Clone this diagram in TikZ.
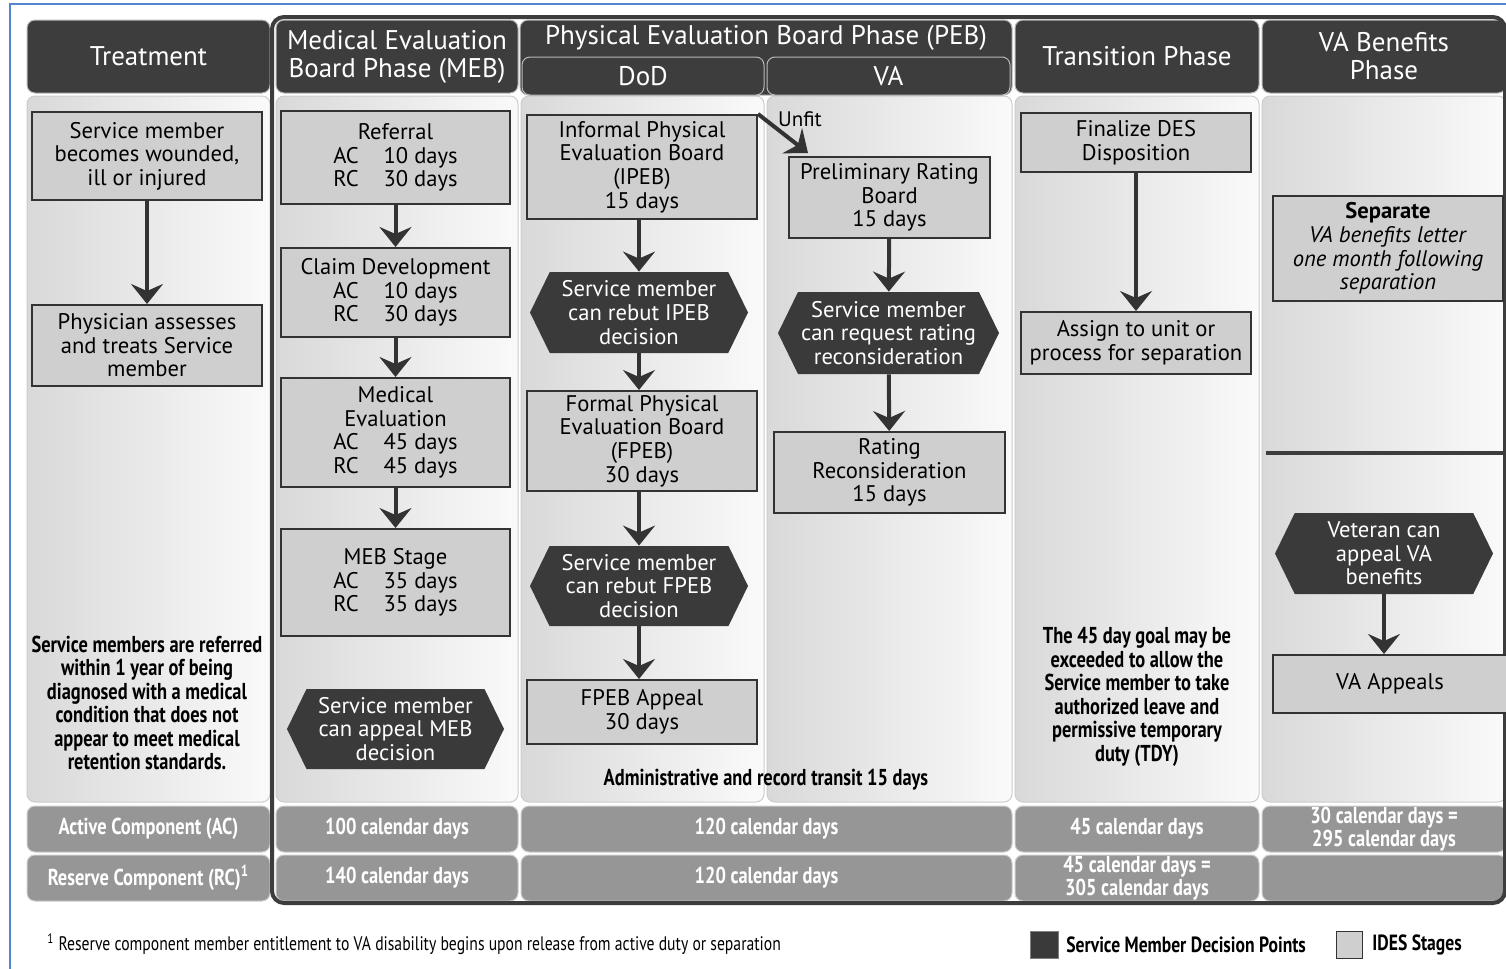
\documentclass[tikz,border=0pt]{standalone}
\usepackage{fontspec}
\setmainfont{PT Sans}
\newfontfamily\condfont[FakeStretch=0.80]{PT Sans}
\usetikzlibrary{arrows.meta,shapes.symbols}
\definecolor{headdark}{HTML}{3D3D3D}
\definecolor{boxfill}{HTML}{CFCFCF}
\definecolor{boxline}{HTML}{333333}
\definecolor{decfill}{HTML}{3A3A3A}
\definecolor{rowgray}{HTML}{969696}
\definecolor{arrowgray}{HTML}{333333}
\definecolor{bluebord}{HTML}{5585CC}
\tikzset{
  phasehead/.style={fill=headdark, draw=gray!55, line width=0.5pt, rounded corners=4pt, text=white, align=center, inner sep=0pt, font=\fontsize{13.5}{14}\selectfont},
  stagebox/.style={draw=boxline, line width=1pt, fill=boxfill, align=center, inner sep=0pt, font=\fontsize{11.3}{11.8}\selectfont},
  decision/.style={signal, signal to=east and west, signal pointer angle=128, fill=decfill, text=white, align=center, inner sep=0pt, font=\fontsize{11.3}{11.8}\selectfont},
  dayscell/.style={fill=rowgray, draw=gray!40, line width=0.5pt, rounded corners=4pt, text=white, align=center, inner sep=0pt, minimum height=23pt, font=\condfont\bfseries\fontsize{11.5}{11.5}\selectfont},
  colbody/.style={left color=gray!30, right color=gray!4, draw=gray!40, line width=0.5pt, rounded corners=4pt},
  flow/.style={draw=arrowgray, line width=2pt, -{Stealth[length=10pt, width=16pt, inset=3.5pt]}},
  boldnote/.style={align=center, inner sep=0pt, font=\condfont\bfseries\fontsize{11.5}{11.75}\selectfont},
}
\begin{document}
\begin{tikzpicture}[x=0.5pt, y=-0.5pt]
    \useasboundingbox (0,0) rectangle (1506,969);
    \draw[bluebord, line width=1pt] (10,969) -- (10,4) -- (1506,4);
    % column bodies
    \shade[colbody] (27,96) rectangle (270,802);
    \shade[colbody] (276,96) rectangle (518,802);
    \shade[colbody] (521,96) rectangle (764,802);
    \shade[colbody] (767,96) rectangle (1012,802);
    \shade[colbody] (1015,96) rectangle (1259,802);
    \shade[colbody] (1262,96) rectangle (1506,802);
    % headers
    \node[phasehead, minimum width=121.5pt, minimum height=36.5pt] (hTreat) at (148.5,56.5) {Treatment};
    \node[phasehead, minimum width=121pt, minimum height=36.5pt] (hMEB) at (397,56.5) {Medical Evaluation\\Board Phase (MEB)};
    \node[phasehead, minimum width=246pt, minimum height=37.5pt] (hPEB) at (766,57.5) {};
    \node[text=white, font=\fontsize{13.5}{14}\selectfont, inner sep=0pt] (hPEBtitle) at (766,38) {Physical Evaluation Board Phase (PEB)};
    \node[phasehead, minimum width=121pt, minimum height=19pt] (hDoD) at (643,76) {DoD};
    \node[phasehead, minimum width=121.5pt, minimum height=19pt] (hVA) at (888.5,76) {VA};
    \node[phasehead, minimum width=122pt, minimum height=36.5pt] (hTrans) at (1137,56.5) {Transition Phase};
    \node[phasehead, minimum width=122pt, minimum height=36.5pt] (hBen) at (1384,56.5) {VA Benefits\\Phase};
    % day rows
    \node[dayscell, minimum width=121.5pt] (acT) at (148.5,829) {Active Component (AC)};
    \node[dayscell, minimum width=121.5pt] (rcT) at (148.5,878) {Reserve Component (RC)\textsuperscript{1}};
    \node[dayscell, minimum width=121pt] (acMEB) at (397,829) {100 calendar days};
    \node[dayscell, minimum width=121pt] (rcMEB) at (397,878) {140 calendar days};
    \node[dayscell, minimum width=245.5pt] (acPEB) at (766.5,829) {120 calendar days};
    \node[dayscell, minimum width=245.5pt] (rcPEB) at (766.5,878) {120 calendar days};
    \node[dayscell, minimum width=122pt] (acTrans) at (1137,829) {45 calendar days};
    \node[dayscell, minimum width=122pt] (rcTrans) at (1137,878) {45 calendar days =\\305 calendar days};
    \node[dayscell, minimum width=122pt] (acBen) at (1384,829) {30 calendar days =\\295 calendar days};
    \node[dayscell, minimum width=122pt] (rcBen) at (1384,878) {};
    \draw[headdark, line width=2pt, rounded corners=6pt] (272,17) rectangle (1505,903);
    % treatment
    \node[stagebox, minimum width=115pt, minimum height=44pt] (t1) at (147,156) {Service member\\becomes wounded,\\ill or injured};
    \node[stagebox, minimum width=115pt, minimum height=40.5pt] (t2) at (147,345.5) {Physician assesses\\and treats Service\\member};
    \draw[flow] (t1) -- (t2);
    \node[boldnote] (tNote) at (147,703) {Service members are referred\\within 1 year of being\\diagnosed with a medical\\condition that does not\\appear to meet medical\\retention standards.};
    % MEB
    \node[stagebox, minimum width=114.5pt, minimum height=46.5pt] (m1) at (395.5,157.5) {Referral\\AC\hspace{1.1em}10 days\\RC\hspace{1.1em}30 days};
    \node[stagebox, minimum width=114.5pt, minimum height=44.5pt] (m2) at (395.5,292.5) {Claim Development\\AC\hspace{1.1em}10 days\\RC\hspace{1.1em}30 days};
    \node[stagebox, minimum width=114.5pt, minimum height=54.5pt] (m3) at (395.5,432.5) {Medical\\Evaluation\\AC\hspace{1.1em}45 days\\RC\hspace{1.1em}45 days};
    \node[stagebox, minimum width=114.5pt, minimum height=53.5pt] (m4) at (395.5,582.5) {MEB Stage\\AC\hspace{1.1em}35 days\\RC\hspace{1.1em}35 days};
    \node[decision, minimum width=108.5pt, minimum height=40pt] (m5) at (395.5,729) {Service member\\can appeal MEB\\decision};
    \draw[flow] (m1) -- (m2);
    \draw[flow] (m2) -- (m3);
    \draw[flow] (m3) -- (m4);
    % PEB - DoD
    \node[stagebox, minimum width=115pt, minimum height=52pt] (d1) at (642,167) {Informal Physical\\Evaluation Board\\(IPEB)\\15 days};
    \node[decision, minimum width=109pt, minimum height=40.5pt] (d2) at (639,312.5) {Service member\\can rebut IPEB\\decision};
    \node[stagebox, minimum width=115pt, minimum height=50pt] (d3) at (642,441) {Formal Physical\\Evaluation Board\\(FPEB)\\30 days};
    \node[decision, minimum width=109pt, minimum height=40pt] (d4) at (639,586) {Service member\\can rebut FPEB\\decision};
    \node[stagebox, minimum width=115pt, minimum height=32pt] (d5) at (642,712) {FPEB Appeal\\30 days};
    \draw[flow] (d1.south -| d2) -- (d2.north);
    \draw[flow] (d2.south) -- (d2.south |- d3.north);
    \draw[flow] (d3.south -| d4) -- (d4.north);
    \draw[flow] (d4.south) -- (d4.south |- d5.north);
    \node[boldnote] (admin) at (766,780) {Administrative and record transit 15 days};
    % PEB - VA
    \node[stagebox, minimum width=100.5pt, minimum height=40.5pt] (v1) at (889.5,197.5) {Preliminary Rating\\Board\\15 days};
    \node[decision, minimum width=110.5pt, minimum height=41pt] (v2) at (888.5,333) {Service member\\can request rating\\reconsideration};
    \node[stagebox, minimum width=115.5pt, minimum height=40.5pt] (v3) at (889.5,472.5) {Rating\\Reconsideration\\15 days};
    \coordinate (unfittip) at (808,153);
    \draw[flow] (d1.north east) -- (unfittip);
    \node[font=\fontsize{10.5}{11}\selectfont, inner sep=0pt] (unfit) at (800,119) {Unfit};
    \draw[flow] (v1) -- (v2);
    \draw[flow] (v2) -- (v3);
    % transition
    \node[stagebox, minimum width=115pt, minimum height=29.5pt] (r1) at (1136,142.5) {Finalize DES\\Disposition};
    \node[stagebox, minimum width=115pt, minimum height=31pt] (r2) at (1136,343) {Assign to unit or\\process for separation};
    \draw[flow] (r1) -- (r2);
    \node[boldnote] (rNote) at (1137,697) {The 45 day goal may be\\exceeded to allow the\\Service member to take\\authorized leave and\\permissive temporary\\duty (TDY)};
    % VA benefits
    \node[stagebox, minimum width=115pt, minimum height=52.5pt] (b1) at (1388,248.5) {\textbf{Separate}\\\textit{VA benefits letter}\\\textit{one month following}\\\textit{separation}};
    \draw[headdark, line width=2pt] (1266,453) -- (1506,453);
    \node[decision, minimum width=109pt, minimum height=40.5pt] (b2) at (1384,553.5) {Veteran can\\appeal VA\\benefits};
    \node[stagebox, minimum width=117pt, minimum height=29pt] (b3) at (1390,684) {VA Appeals};
    \draw[flow] (b2.south) -- (b2.south |- b3.north);
    % footnote and legend
    \node[anchor=west, inner sep=0pt, font=\condfont\fontsize{9.8}{10}\selectfont] (foot) at (47,944) {\textsuperscript{1} Reserve component member entitlement to VA disability begins upon release from active duty or separation};
    \node[fill=decfill, draw=gray, line width=0.5pt, minimum width=14pt, minimum height=13.5pt, inner sep=0pt] (legDec) at (1044,945) {};
    \node[anchor=west, inner sep=0pt, font=\condfont\bfseries\fontsize{11}{11}\selectfont] (legDecText) at (1066,945) {Service Member Decision Points};
    \node[fill=boxfill, draw=boxline, line width=0.5pt, minimum width=13pt, minimum height=13.5pt, inner sep=0pt] (legStage) at (1349,945) {};
    \node[anchor=west, inner sep=0pt, font=\condfont\bfseries\fontsize{11}{11}\selectfont] (legStageText) at (1372,945) {IDES Stages};
\end{tikzpicture}
\end{document}
